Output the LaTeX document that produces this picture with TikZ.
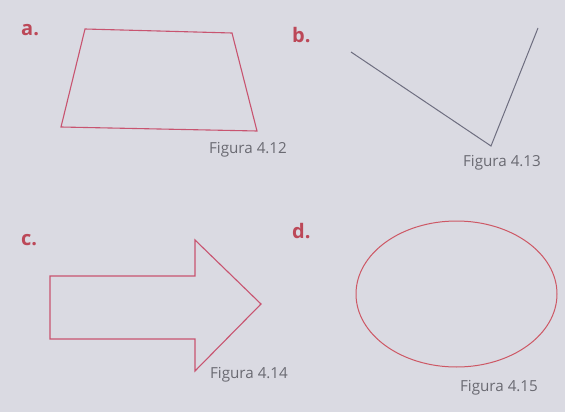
\documentclass[tikz,border=0pt]{standalone}
\usepackage{fontspec}
\setmainfont{Open Sans}
\begin{document}
\begin{tikzpicture}[x=1pt,y=-1pt,
  shapeline/.style={draw=figred, line width=1.1pt, line join=miter},
  letterlbl/.style={text=lblred, font=\fontsize{20}{22}\selectfont\bfseries, inner sep=0pt, anchor=west},
  caption/.style={text=capgray, font=\fontsize{15.2}{17}\selectfont, inner sep=0pt}]
\definecolor{figred}{HTML}{C85470}
\definecolor{lblred}{HTML}{BC4858}
\definecolor{capgray}{HTML}{6A6A72}
\definecolor{linegray}{HTML}{6E6E80}
\definecolor{paper}{HTML}{DADAE2}
\fill[paper] (0,0) rectangle (565,412);
\useasboundingbox (0,0) rectangle (565,412);
% a
\node[letterlbl] (la) at (21,30) {a.};
\draw[shapeline] (85,29) -- (232,33) -- (257,131) -- (61,127) -- cycle;
\node[caption] (ca) at (248,150) {Figura 4.12};
% b
\node[letterlbl] (lb) at (292,35) {b.};
\coordinate (b1) at (351,52);
\coordinate (b2) at (491,146);
\coordinate (b3) at (538,28);
\draw[draw=linegray, line width=1pt] (b1) -- (b2) -- (b3);
\node[caption] (cb) at (502,163) {Figura 4.13};
% c
\node[letterlbl] (lc) at (21,240) {c.};
\draw[shapeline] (50,276) -- (195,276) -- (195,240) -- (261,304) -- (195,371) -- (195,339) -- (50,339) -- cycle;
\node[caption] (cc) at (249,375) {Figura 4.14};
% d
\node[letterlbl] (ld) at (292,231) {d.};
\draw[draw=figred!90!orange, line width=1pt] (456.5,294) ellipse [x radius=100.5, y radius=73];
\node[caption] (cd) at (499,388) {Figura 4.15};
\end{tikzpicture}
\end{document}
